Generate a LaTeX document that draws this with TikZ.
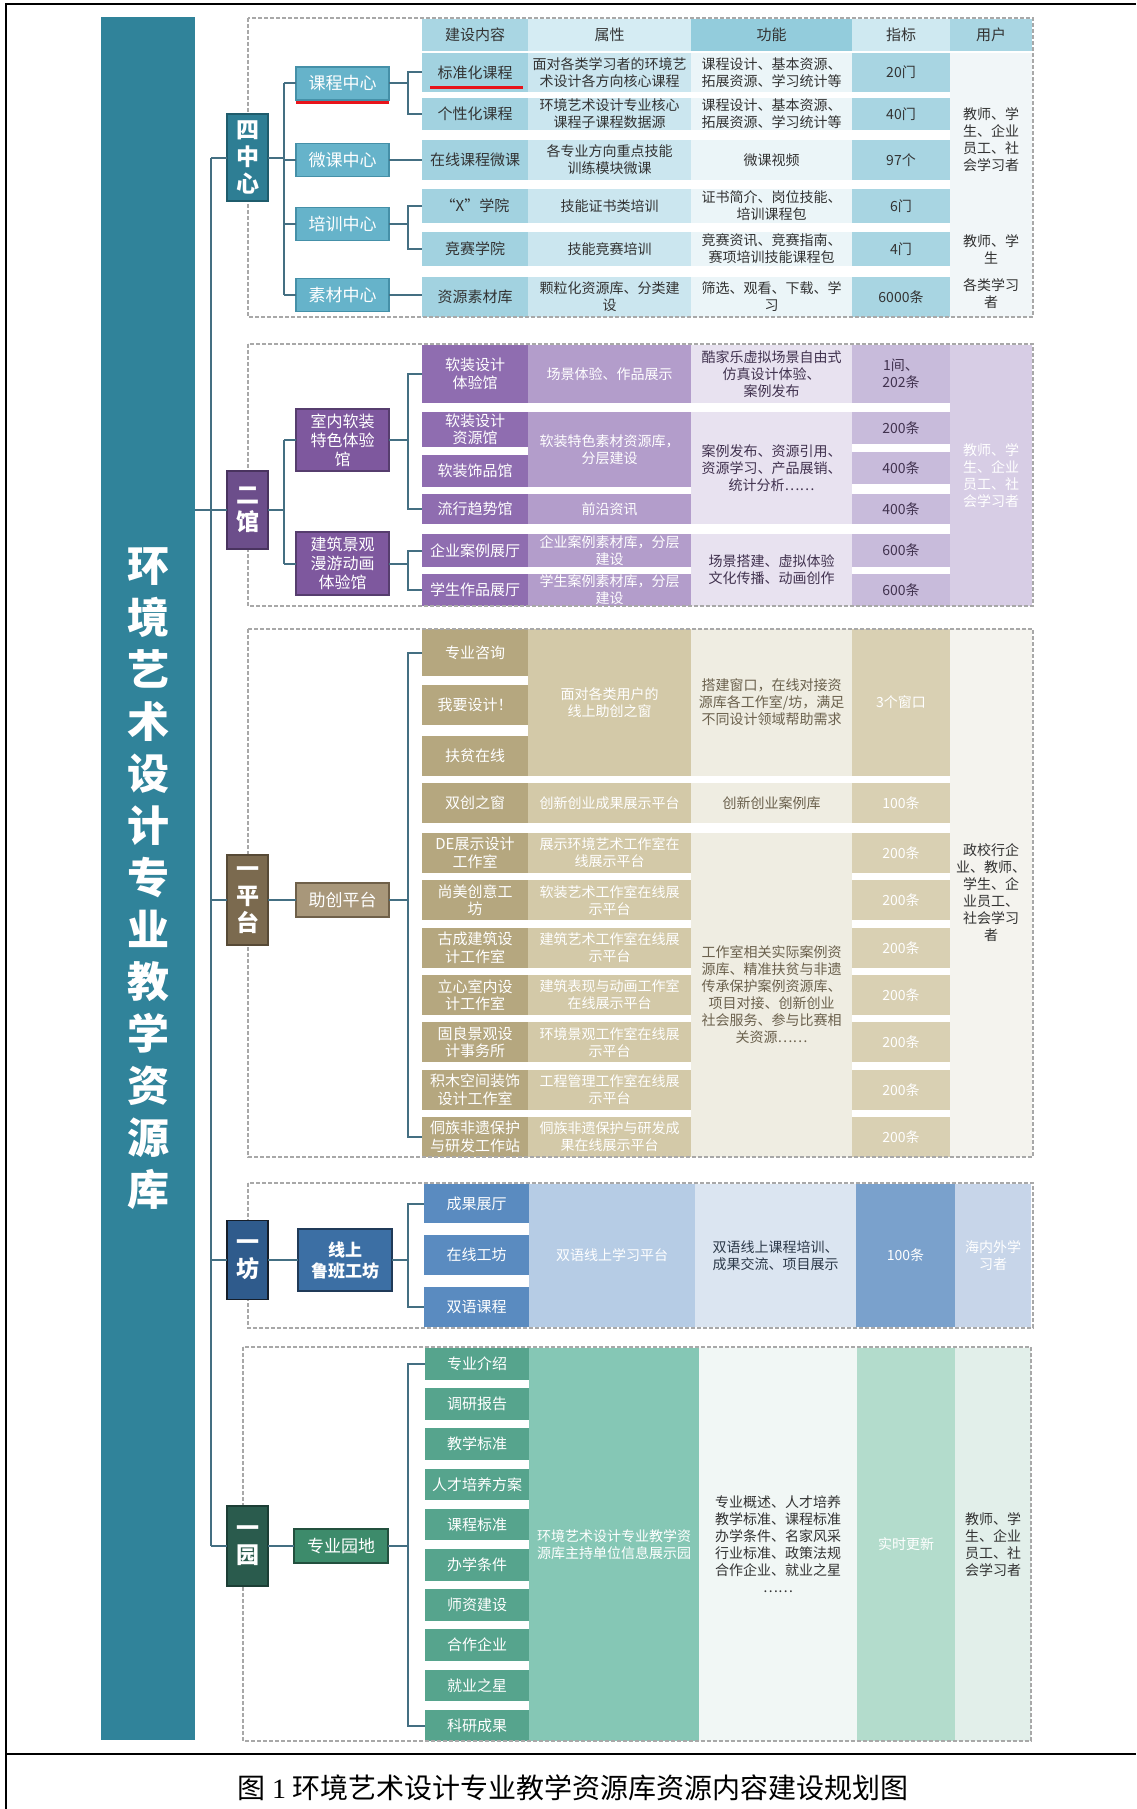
\documentclass[tikz,border=0pt]{standalone}
\usepackage{fontspec}
\setmainfont{Noto Sans CJK SC}
\newfontfamily\lserif{Liberation Serif}
\newcommand\cjkdots{{\addfontfeature{RawFeature=+fwid}……}}
\usetikzlibrary{calc}
\definecolor{lineC}{HTML}{446F82}
\definecolor{dashC}{HTML}{A8A8A8}
\definecolor{mainC}{HTML}{30839A}
\definecolor{redC}{HTML}{E8141B}
% section 1
\definecolor{s1cat}{HTML}{2E7E94}\definecolor{s1catD}{HTML}{1F5C6C}
\definecolor{s1sub}{HTML}{66B3CA}\definecolor{s1subD}{HTML}{4590A8}
\definecolor{s1hA}{HTML}{A9D6E3}\definecolor{s1hB}{HTML}{D5ECF3}
\definecolor{s1hC}{HTML}{93CCDC}\definecolor{s1hD}{HTML}{CFE9F1}
\definecolor{s1a}{HTML}{A2D2E0}\definecolor{s1b}{HTML}{CBE6EF}
\definecolor{s1c}{HTML}{EBF5F8}\definecolor{s1d}{HTML}{A8D5E2}
\definecolor{s1e}{HTML}{F1F6F8}\definecolor{s1t}{HTML}{333333}
% section 2
\definecolor{s2cat}{HTML}{6C4E8B}\definecolor{s2catD}{HTML}{49335F}
\definecolor{s2sub}{HTML}{7E589E}\definecolor{s2subD}{HTML}{563D6E}
\definecolor{s2a}{HTML}{8F6DB0}\definecolor{s2b}{HTML}{B39DCB}
\definecolor{s2c}{HTML}{E8E2F0}\definecolor{s2d}{HTML}{C8BBDB}
\definecolor{s2e}{HTML}{D7CDE5}\definecolor{s2t}{HTML}{41324F}
% section 3
\definecolor{s3cat}{HTML}{7B6A4F}\definecolor{s3catD}{HTML}{574A36}
\definecolor{s3sub}{HTML}{A8977A}\definecolor{s3subD}{HTML}{6F6049}
\definecolor{s3a}{HTML}{B5A77F}\definecolor{s3b}{HTML}{D3C9A8}
\definecolor{s3c}{HTML}{EFEDE2}\definecolor{s3d}{HTML}{D9D0B3}
\definecolor{s3e}{HTML}{F4F3EE}\definecolor{s3t}{HTML}{6B614D}
% section 4
\definecolor{s4cat}{HTML}{2F5B8C}\definecolor{s4catD}{HTML}{151E2A}
\definecolor{s4sub}{HTML}{3C6FA4}\definecolor{s4subD}{HTML}{203A58}
\definecolor{s4a}{HTML}{5A8BC0}\definecolor{s4b}{HTML}{B6CCE5}
\definecolor{s4c}{HTML}{DBE5F1}\definecolor{s4d}{HTML}{7AA1CC}
\definecolor{s4e}{HTML}{C7D5E9}\definecolor{s4t}{HTML}{2D3A4A}
% section 5
\definecolor{s5cat}{HTML}{2A5B4D}\definecolor{s5catD}{HTML}{1C3E35}
\definecolor{s5sub}{HTML}{3D8B6B}\definecolor{s5subD}{HTML}{23503E}
\definecolor{s5a}{HTML}{56A48D}\definecolor{s5b}{HTML}{85C7B5}
\definecolor{s5c}{HTML}{F1F7F5}\definecolor{s5d}{HTML}{B3DCCC}
\definecolor{s5e}{HTML}{E2EFEA}\definecolor{s5t}{HTML}{333333}

\tikzset{
  conn/.style={draw=lineC, line width=2pt},
  framel/.style={draw=black, line width=2pt},
  sect/.style={draw=dashC, dash pattern=on 4pt off 2pt, line width=1.5pt},
  redl/.style={draw=redC, line width=3pt},
  cellbox/.style={inner sep=0pt, outer sep=0pt, align=center, font=\fontsize{14}{17}\selectfont},
  cA/.style={font=\fontsize{15}{17.5}\selectfont},
  cat/.style={inner sep=0pt, outer sep=0pt, align=center, text=white, line width=1.5pt,
    font=\bfseries\fontsize{23}{27}\selectfont, minimum width=41pt},
  sub/.style={inner sep=0pt, outer sep=0pt, align=center, text=white, line width=1.5pt,
    font=\fontsize{17}{19.5}\selectfont, minimum width=93pt},
  hdr/.style={text=s1t, font=\fontsize{15}{17.5}\selectfont},
  s1A/.style={fill=s1a, text=s1t, cA}, s1B/.style={fill=s1b, text=s1t},
  s1C/.style={fill=s1c, text=s1t}, s1D/.style={fill=s1d, text=s1t},
  s1E/.style={fill=s1e, text=s1t},
  s2A/.style={fill=s2a, text=white, cA}, s2B/.style={fill=s2b, text=white},
  s2C/.style={fill=s2c, text=s2t}, s2D/.style={fill=s2d, text=s2t},
  s2E/.style={fill=s2e, text=white},
  s3A/.style={fill=s3a, text=white, cA}, s3B/.style={fill=s3b, text=white},
  s3C/.style={fill=s3c, text=s3t}, s3D/.style={fill=s3d, text=white},
  s3E/.style={fill=s3e, text=s1t},
  s4A/.style={fill=s4a, text=white, cA}, s4B/.style={fill=s4b, text=white},
  s4C/.style={fill=s4c, text=s4t}, s4D/.style={fill=s4d, text=white},
  s4E/.style={fill=s4e, text=white},
  s5A/.style={fill=s5a, text=white, cA}, s5B/.style={fill=s5b, text=white},
  s5C/.style={fill=s5c, text=s5t}, s5D/.style={fill=s5d, text=white},
  s5E/.style={fill=s5e, text=s5t},
}
\newcommand\mycell[7]{\node[cellbox,#6,minimum width={((#4)-(#2))*1pt},minimum height={((#5)-(#3))*1pt}] (#1) at ({((#2)+(#4))/2},{((#3)+(#5))/2}) {#7};}

\begin{document}
\begin{tikzpicture}[x=1pt,y=-1pt]
\useasboundingbox (0,0) rectangle (1136,1809);
\draw[framel] (6,1809) -- (6,4) -- (1136,4);
\draw[framel] (6,1754) -- (1136,1754);

% main bar
\node[fill=mainC, minimum width=94pt, minimum height=1723pt, inner sep=0pt, outer sep=0pt,
  align=center, text=white, font=\bfseries\fontsize{42}{52}\selectfont] (main) at (148,878.5)
  {环\\境\\艺\\术\\设\\计\\专\\业\\教\\学\\资\\源\\库};

% ===== section 1 =====
\mycell{H0}{422}{19}{528}{51}{fill=s1hA,hdr}{建设内容}
\mycell{H1}{528}{19}{691}{51}{fill=s1hB,hdr}{属性}
\mycell{H2}{691}{19}{852}{51}{fill=s1hC,hdr}{功能}
\mycell{H3}{852}{19}{950}{51}{fill=s1hD,hdr}{指标}
\mycell{H4}{950}{19}{1032}{51}{fill=s1hA,hdr}{用户}

\mycell{S1A1}{422}{53}{528}{92}{s1A}{标准化课程}
\mycell{S1B1}{528}{53}{691}{92}{s1B}{面对各类学习者的环境艺\\术设计各方向核心课程}
\mycell{S1C1}{691}{53}{852}{92}{s1C}{课程设计、基本资源、\\拓展资源、学习统计等}
\mycell{S1D1}{852}{53}{950}{92}{s1D}{20门}

\mycell{S1A2}{422}{98}{528}{130}{s1A}{个性化课程}
\mycell{S1B2}{528}{98}{691}{130}{s1B}{环境艺术设计专业核心\\课程子课程数据源}
\mycell{S1C2}{691}{98}{852}{130}{s1C}{课程设计、基本资源、\\拓展资源、学习统计等}
\mycell{S1D2}{852}{98}{950}{130}{s1D}{40门}

\mycell{S1A3}{422}{140}{528}{180}{s1A}{在线课程微课}
\mycell{S1B3}{528}{140}{691}{180}{s1B}{各专业方向重点技能\\训练模块微课}
\mycell{S1C3}{691}{140}{852}{180}{s1C}{微课视频}
\mycell{S1D3}{852}{140}{950}{180}{s1D}{97个}

\mycell{S1A4}{422}{189}{528}{223}{s1A}{“X”学院}
\mycell{S1B4}{528}{189}{691}{223}{s1B}{技能证书类培训}
\mycell{S1C4}{691}{189}{852}{223}{s1C}{证书简介、岗位技能、\\培训课程包}
\mycell{S1D4}{852}{189}{950}{223}{s1D}{6门}

\mycell{S1A5}{422}{232}{528}{266}{s1A}{竞赛学院}
\mycell{S1B5}{528}{232}{691}{266}{s1B}{技能竞赛培训}
\mycell{S1C5}{691}{232}{852}{266}{s1C}{竞赛资讯、竞赛指南、\\赛项培训技能课程包}
\mycell{S1D5}{852}{232}{950}{266}{s1D}{4门}

\mycell{S1A6}{422}{277}{528}{317}{s1A}{资源素材库}
\mycell{S1B6}{528}{277}{691}{317}{s1B}{颗粒化资源库、分类建\\设}
\mycell{S1C6}{691}{277}{852}{317}{s1C}{筛选、观看、下载、学\\习}
\mycell{S1D6}{852}{277}{950}{317}{s1D}{6000条}

\mycell{S1E1}{950}{53}{1032}{227}{s1E}{教师、学\\生、企业\\员工、社\\会学习者}
\mycell{S1E2}{950}{227}{1032}{271}{s1E}{教师、学\\生}
\mycell{S1E3}{950}{271}{1032}{317}{s1E}{各类学习\\者}

% ===== section 2 =====
\mycell{S2A1}{422}{345}{528}{403}{s2A}{软装设计\\体验馆}
\mycell{S2B1}{528}{345}{691}{403}{s2B}{场景体验、作品展示}
\mycell{S2C1}{691}{345}{852}{403}{s2C}{酷家乐虚拟场景自由式\\仿真设计体验、\\案例发布}
\mycell{S2D1}{852}{345}{950}{403}{s2D}{1间、\\202条}
\mycell{S2A2}{422}{412}{528}{447}{s2A}{软装设计\\资源馆}
\mycell{S2A3}{422}{455}{528}{487}{s2A}{软装饰品馆}
\mycell{S2A4}{422}{494}{528}{524}{s2A}{流行趋势馆}
\mycell{S2A5}{422}{534}{528}{567}{s2A}{企业案例展厅}
\mycell{S2A6}{422}{574}{528}{606}{s2A}{学生作品展厅}
\mycell{S2B2}{528}{412}{691}{487}{s2B}{软装特色素材资源库，\\分层建设}
\mycell{S2B4}{528}{494}{691}{524}{s2B}{前沿资讯}
\mycell{S2B5}{528}{534}{691}{567}{s2B}{企业案例素材库，分层\\建设}
\mycell{S2B6}{528}{574}{691}{606}{s2B}{学生案例素材库，分层\\建设}
\mycell{S2C2}{691}{412}{852}{524}{s2C}{案例发布、资源引用、\\资源学习、产品展销、\\统计分析\cjkdots}
\mycell{S2C5}{691}{534}{852}{606}{s2C}{场景搭建、虚拟体验\\文化传播、动画创作}
\mycell{S2D2}{852}{412}{950}{444}{s2D}{200条}
\mycell{S2D3}{852}{452}{950}{484}{s2D}{400条}
\mycell{S2D4}{852}{494}{950}{524}{s2D}{400条}
\mycell{S2D5}{852}{534}{950}{567}{s2D}{600条}
\mycell{S2D6}{852}{574}{950}{606}{s2D}{600条}
\mycell{S2E1}{950}{345}{1032}{606}{s2E}{教师、学\\生、企业\\员工、社\\会学习者}

% ===== section 3 =====
\mycell{S3A1}{422}{629}{528}{676}{s3A}{专业咨询}
\mycell{S3A2}{422}{685}{528}{725}{s3A}{我要设计！}
\mycell{S3A3}{422}{736}{528}{776}{s3A}{扶贫在线}
\mycell{S3A4}{422}{783}{528}{823}{s3A}{双创之窗}
\mycell{S3A5}{422}{833}{528}{873}{s3A}{DE展示设计\\工作室}
\mycell{S3A6}{422}{880.3}{528}{920.3}{s3A}{尚美创意工\\坊}
\mycell{S3A7}{422}{927.7}{528}{967.7}{s3A}{古成建筑设\\计工作室}
\mycell{S3A8}{422}{975}{528}{1015}{s3A}{立心室内设\\计工作室}
\mycell{S3A9}{422}{1022.3}{528}{1062.3}{s3A}{固良景观设\\计事务所}
\mycell{S3A10}{422}{1069.7}{528}{1109.7}{s3A}{积木空间装饰\\设计工作室}
\mycell{S3A11}{422}{1117}{528}{1157}{s3A}{侗族非遗保护\\与研发工作站}

\mycell{S3B1}{528}{629}{691}{776}{s3B}{面对各类用户的\\线上助创之窗}
\mycell{S3B4}{528}{783}{691}{823}{s3B}{创新创业成果展示平台}
\mycell{S3B5}{528}{833}{691}{873}{s3B}{展示环境艺术工作室在\\线展示平台}
\mycell{S3B6}{528}{880.3}{691}{920.3}{s3B}{软装艺术工作室在线展\\示平台}
\mycell{S3B7}{528}{927.7}{691}{967.7}{s3B}{建筑艺术工作室在线展\\示平台}
\mycell{S3B8}{528}{975}{691}{1015}{s3B}{建筑表现与动画工作室\\在线展示平台}
\mycell{S3B9}{528}{1022.3}{691}{1062.3}{s3B}{环境景观工作室在线展\\示平台}
\mycell{S3B10}{528}{1069.7}{691}{1109.7}{s3B}{工程管理工作室在线展\\示平台}
\mycell{S3B11}{528}{1117}{691}{1157}{s3B}{侗族非遗保护与研发成\\果在线展示平台}

\mycell{S3C1}{691}{629}{852}{776}{s3C}{搭建窗口，在线对接资\\源库各工作室/坊，满足\\不同设计领域帮助需求}
\mycell{S3C4}{691}{783}{852}{823}{s3C}{创新创业案例库}
\mycell{S3C5}{691}{833}{852}{1157}{s3C}{工作室相关实际案例资\\源库、精准扶贫与非遗\\传承保护案例资源库、\\项目对接、创新创业\\社会服务、参与比赛相\\关资源\cjkdots}

\mycell{S3D1}{852}{629}{950}{776}{s3D}{3个窗口}
\mycell{S3D4}{852}{783}{950}{823}{s3D}{100条}
\mycell{S3D5}{852}{833}{950}{873}{s3D}{200条}
\mycell{S3D6}{852}{880.3}{950}{920.3}{s3D}{200条}
\mycell{S3D7}{852}{927.7}{950}{967.7}{s3D}{200条}
\mycell{S3D8}{852}{975}{950}{1015}{s3D}{200条}
\mycell{S3D9}{852}{1022.3}{950}{1062.3}{s3D}{200条}
\mycell{S3D10}{852}{1069.7}{950}{1109.7}{s3D}{200条}
\mycell{S3D11}{852}{1117}{950}{1157}{s3D}{200条}

\mycell{S3E1}{950}{629}{1032}{1157}{s3E}{政校行企\\业、教师、\\学生、企\\业员工、\\社会学习\\者}

% ===== section 4 =====
\mycell{S4A1}{424}{1184}{529}{1223}{s4A}{成果展厅}
\mycell{S4A2}{424}{1235}{529}{1275}{s4A}{在线工坊}
\mycell{S4A3}{424}{1287}{529}{1327}{s4A}{双语课程}
\mycell{S4B1}{529}{1184}{695}{1327}{s4B}{双语线上学习平台}
\mycell{S4C1}{695}{1184}{856}{1327}{s4C}{双语线上课程培训、\\成果交流、项目展示}
\mycell{S4D1}{856}{1184}{955}{1327}{s4D}{100条}
\mycell{S4E1}{955}{1184}{1031}{1327}{s4E}{海内外学\\习者}

% ===== section 5 =====
\mycell{S5A1}{425}{1348}{529}{1379.5}{s5A}{专业介绍}
\mycell{S5A2}{425}{1388.2}{529}{1419.7}{s5A}{调研报告}
\mycell{S5A3}{425}{1428.4}{529}{1459.9}{s5A}{教学标准}
\mycell{S5A4}{425}{1468.6}{529}{1500.1}{s5A}{人才培养方案}
\mycell{S5A5}{425}{1508.8}{529}{1540.3}{s5A}{课程标准}
\mycell{S5A6}{425}{1549}{529}{1580.5}{s5A}{办学条件}
\mycell{S5A7}{425}{1589.2}{529}{1620.7}{s5A}{师资建设}
\mycell{S5A8}{425}{1629.4}{529}{1660.9}{s5A}{合作企业}
\mycell{S5A9}{425}{1669.6}{529}{1701.1}{s5A}{就业之星}
\mycell{S5A10}{425}{1709.8}{529}{1741.3}{s5A}{科研成果}
\mycell{S5B1}{529}{1348}{699}{1741}{s5B}{环境艺术设计专业教学资\\源库主持单位信息展示园}
\mycell{S5C1}{699}{1348}{857}{1741}{s5C}{专业概述、人才培养\\教学标准、课程标准\\办学条件、名家风采\\行业标准、政策法规\\合作企业、就业之星\\\cjkdots}
\mycell{S5D1}{857}{1348}{955}{1741}{s5D}{实时更新}
\mycell{S5E1}{955}{1348}{1031}{1741}{s5E}{教师、学\\生、企业\\员工、社\\会学习者}

% dashed section frames
\draw[sect] (248,18) rectangle (1033,317);
\draw[sect] (248,344) rectangle (1033,606);
\draw[sect] (248,629) rectangle (1033,1157);
\draw[sect] (248,1183) rectangle (1033,1328);
\draw[sect] (243,1347) rectangle (1031,1741);

% category boxes
\node[cat, fill=s1cat, draw=s1catD, minimum height=87pt] (C1) at (247.5,157.5) {四\\中\\心};
\node[cat, fill=s2cat, draw=s2catD, minimum height=78pt] (C2) at (247.5,510) {二\\馆};
\node[cat, fill=s3cat, draw=s3catD, minimum height=90pt] (C3) at (247.5,900) {一\\平\\台};
\node[cat, fill=s4cat, draw=s4catD, minimum height=79pt] (C4) at (247.5,1260) {一\\坊};
\node[cat, fill=s5cat, draw=s5catD, minimum height=80pt] (C5) at (247.5,1546) {一\\园};

% sub nodes
\node[sub, fill=s1sub, draw=s1subD, minimum height=33pt] (K1) at (342.5,83.5) {课程中心};
\node[sub, fill=s1sub, draw=s1subD, minimum height=33pt] (K2) at (342.5,160) {微课中心};
\node[sub, fill=s1sub, draw=s1subD, minimum height=33pt] (K3) at (342.5,224) {培训中心};
\node[sub, fill=s1sub, draw=s1subD, minimum height=33pt] (K4) at (342.5,295) {素材中心};
\node[sub, fill=s2sub, draw=s2subD, minimum height=62pt, font=\fontsize{16}{19}\selectfont] (N1) at (342.5,440) {室内软装\\特色体验\\馆};
\node[sub, fill=s2sub, draw=s2subD, minimum height=63pt, font=\fontsize{16}{19}\selectfont] (N2) at (342.5,563.5) {建筑景观\\漫游动画\\体验馆};
\node[sub, fill=s3sub, draw=s3subD, minimum height=34pt] (P3) at (342.5,900) {助创平台};
\node[sub, fill=s4sub, draw=s4subD, minimum height=62pt, minimum width=94pt, font=\bfseries\fontsize{17}{21}\selectfont] (P4) at (345,1260) {线上\\鲁班工坊};
\node[sub, fill=s5sub, draw=s5subD, minimum height=34pt, minimum width=94pt] (P5) at (341,1546) {专业园地};

% red underlines
\draw[redl] ($(S1A1.south west)+(8,-4)$) -- ($(S1A1.south east)+(-5,-4)$);
\draw[redl] ($(K1.south west)+(0,2.5)$) -- ($(K1.south east)+(0,2.5)$);

% trunk
\coordinate (trk) at (211,0);
\coordinate (bus) at (284,0);
\coordinate (bx) at (408,0);
\draw[conn] (C1.west -| trk) -- (C5.west -| trk);
\foreach \c in {C1,C2,C3,C4,C5} \draw[conn] (\c.west -| trk) -- (\c.west);
\draw[conn] (main.east |- C2.west) -- (C2.west -| trk);

% section 1 bus
\draw[conn] (K1.west -| bus) -- (K4.west -| bus);
\foreach \k in {K1,K2,K3,K4} \draw[conn] (\k.west -| bus) -- (\k.west);
\draw[conn] (C1.east) -- (C1.east -| bus);
\draw[conn] (S1A1.west) -- (S1A1.west -| bx) -- (S1A2.west -| bx) -- (S1A2.west);
\draw[conn] (K1.east) -- (K1.east -| bx);
\draw[conn] (K2.east) -- (K2.east -| S1A3.west);
\draw[conn] (S1A4.west) -- (S1A4.west -| bx) -- (S1A5.west -| bx) -- (S1A5.west);
\draw[conn] (K3.east) -- (K3.east -| bx);
\draw[conn] (K4.east) -- (K4.east -| S1A6.west);

% section 2
\draw[conn] (N1.west -| bus) -- (N2.west -| bus);
\foreach \k in {N1,N2} \draw[conn] (\k.west -| bus) -- (\k.west);
\draw[conn] (C2.east) -- (C2.east -| bus);
\draw[conn] (S2A1.west) -- (S2A1.west -| bx) -- (S2A4.west -| bx) -- (S2A4.west);
\draw[conn] (N1.east) -- (N1.east -| bx);
\draw[conn] (S2A5.west) -- (S2A5.west -| bx) -- (S2A6.west -| bx) -- (S2A6.west);
\draw[conn] (N2.east) -- (N2.east -| bx);

% section 3
\draw[conn] (C3.east) -- (P3.west);
\draw[conn] (S3A1.west) -- (S3A1.west -| bx) -- (S3A11.west -| bx) -- (S3A11.west);
\draw[conn] (P3.east) -- (P3.east -| bx);

% section 4
\draw[conn] (C4.east) -- (P4.west);
\draw[conn] (S4A1.west) -- (S4A1.west -| bx) -- (S4A3.west -| bx) -- (S4A3.west);
\draw[conn] (P4.east) -- (P4.east -| bx);

% section 5
\draw[conn] (C5.east) -- (P5.west);
\draw[conn] (S5A1.west) -- (S5A1.west -| bx) -- (S5A10.west -| bx) -- (S5A10.west);
\draw[conn] (P5.east) -- (P5.east -| bx);

% caption
\node[font=\fontsize{28}{32}\selectfont, text=black, inner sep=0pt] (cap) at (573,1788)
  {图 {\lserif 1} 环境艺术设计专业教学资源库资源内容建设规划图};
\end{tikzpicture}
\end{document}
